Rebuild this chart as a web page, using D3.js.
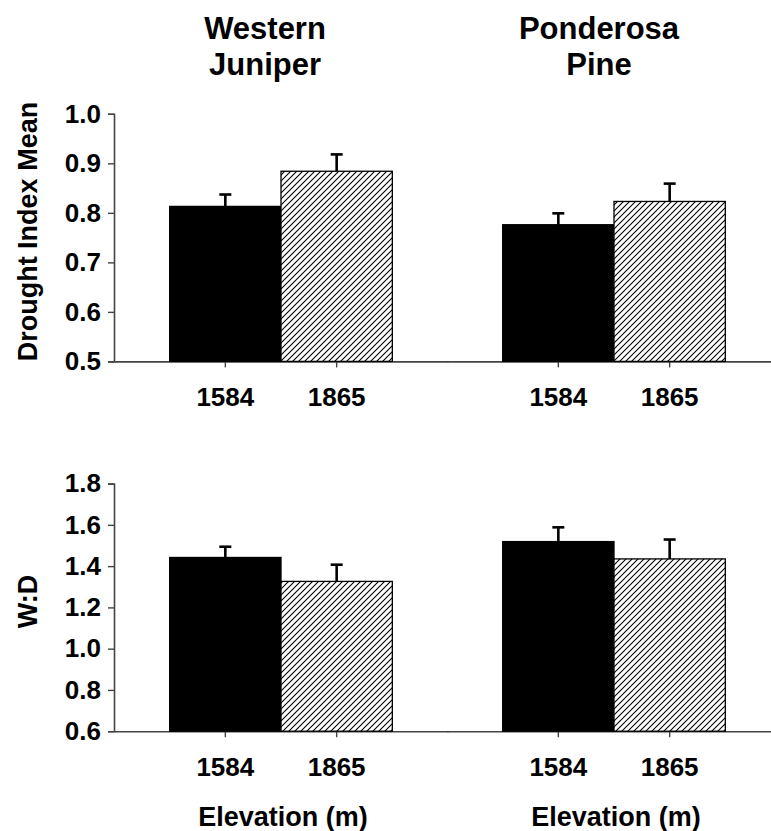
<!DOCTYPE html>
<html>
<head>
<meta charset="utf-8">
<script src="https://cdn.jsdelivr.net/npm/d3@7"></script>
<style>
  body { margin: 0; background: #fff; }
  text { font-family: "Liberation Sans", Arial, sans-serif; font-weight: bold; fill: #000; }
</style>
</head>
<body>
<script>
const width = 771;
const height = 831;

const species = ["Western Juniper", "Ponderosa Pine"];
const elevations = ["1584", "1865"];

// drought index mean and its SE, per species, per elevation
const droughtMean = [[0.813, 0.884], [0.776, 0.823]];
const droughtErr = [[0.024, 0.034], [0.023, 0.036]];

// W:D ratio and its SE
const wdMean = [[1.442, 1.326], [1.519, 1.435]];
const wdErr = [[0.052, 0.081], [0.069, 0.094]];

const droughtTicks = [0.5, 0.6, 0.7, 0.8, 0.9, 1.0];
const wdTicks = [0.6, 0.8, 1.0, 1.2, 1.4, 1.6, 1.8];

const panelLeft = [114, 447];
const panelWidth = 334;

const svg = d3.select("body").append("svg")
  .attr("width", width)
  .attr("height", height)
  .attr("xmlns", "http://www.w3.org/2000/svg");

// diagonal hatch for the 1865 bars
const pat = svg.append("defs").append("pattern")
  .attr("id", "hatch")
  .attr("patternUnits", "userSpaceOnUse")
  .attr("width", 6)
  .attr("height", 6);
pat.append("rect").attr("width", 6).attr("height", 6).attr("fill", "#fff");
pat.append("path")
  .attr("d", "M-1,1 l2,-2 M0,6 l6,-6 M5,7 l2,-2")
  .attr("stroke", "#000")
  .attr("stroke-width", 1.1);

const xBand = d3.scaleBand()
  .domain(elevations)
  .range([0, panelWidth])
  .paddingInner(0)
  .paddingOuter(0.5);

function drawChart(top, bottom, domain, ticks, means, errs, label, withXTitle) {
  const y = d3.scaleLinear().domain(domain).range([bottom, top]);

  // y axis
  const yAxis = svg.append("g")
    .attr("transform", `translate(${panelLeft[0]},0)`)
    .call(d3.axisLeft(y).tickValues(ticks).tickFormat(d3.format(".1f")).tickSize(6).tickPadding(7));
  yAxis.select(".domain").attr("stroke", "#444").attr("stroke-width", 1.6);
  yAxis.selectAll(".tick line").attr("stroke", "#444").attr("stroke-width", 1.4);
  yAxis.selectAll(".tick text").style("font-size", "26px").attr("font-family", null);

  svg.append("text")
    .attr("transform", `translate(37,${(top + bottom) / 2 - 6}) rotate(-90)`)
    .attr("text-anchor", "middle")
    .style("font-size", "27px")
    .text(label);

  species.forEach((sp, i) => {
    const g = svg.append("g").attr("transform", `translate(${panelLeft[i]},0)`);

    const xAxis = g.append("g")
      .attr("transform", `translate(0,${bottom})`)
      .call(d3.axisBottom(xBand).tickSize(6).tickPadding(20).tickSizeOuter(0));
    xAxis.select(".domain").attr("stroke", "#444").attr("stroke-width", 1.6);
    xAxis.selectAll(".tick line").attr("stroke", "#444").attr("stroke-width", 1.4);
    xAxis.selectAll(".tick text").style("font-size", "26px").attr("font-family", null);

    const rows = elevations.map((e, j) => ({ e: e, j: j, v: means[i][j], err: errs[i][j] }));

    // error bars first so the bar covers the lower half
    g.selectAll(".err")
      .data(rows)
      .enter()
      .append("line")
      .attr("x1", (d) => xBand(d.e) + xBand.bandwidth() / 2)
      .attr("x2", (d) => xBand(d.e) + xBand.bandwidth() / 2)
      .attr("y1", (d) => y(d.v))
      .attr("y2", (d) => y(d.v + d.err))
      .attr("stroke", "#000")
      .attr("stroke-width", 2.6);
    g.selectAll(".cap")
      .data(rows)
      .enter()
      .append("line")
      .attr("x1", (d) => xBand(d.e) + xBand.bandwidth() / 2 - 6)
      .attr("x2", (d) => xBand(d.e) + xBand.bandwidth() / 2 + 6)
      .attr("y1", (d) => y(d.v + d.err))
      .attr("y2", (d) => y(d.v + d.err))
      .attr("stroke", "#000")
      .attr("stroke-width", 2.6);

    g.selectAll(".bar")
      .data(rows)
      .enter()
      .append("rect")
      .attr("x", (d) => xBand(d.e))
      .attr("y", (d) => y(d.v))
      .attr("width", xBand.bandwidth())
      .attr("height", (d) => bottom - y(d.v))
      .attr("fill", (d) => d.j === 0 ? "#000" : "url(#hatch)")
      .attr("stroke", "#000")
      .attr("stroke-width", 1.3);

    if (withXTitle) {
      g.append("text")
        .attr("x", panelWidth / 2 + 2)
        .attr("y", 826)
        .attr("text-anchor", "middle")
        .style("font-size", "27px")
        .text("Elevation (m)");
    }
  });
}

// species titles
const titleX = [265, 599];
species.forEach((sp, i) => {
  const words = sp.split(" ");
  const t = svg.append("text")
    .attr("text-anchor", "middle")
    .style("font-size", "31px");
  words.forEach((w, k) => {
    t.append("tspan")
      .attr("x", titleX[i])
      .attr("y", 39 + k * 36)
      .text(w);
  });
});

drawChart(113.8, 361.4, [0.5, 1.0], droughtTicks, droughtMean, droughtErr, "Drought Index Mean", false);
drawChart(483.6, 731.2, [0.6, 1.8], wdTicks, wdMean, wdErr, "W:D", true);
</script>
</body>
</html>
